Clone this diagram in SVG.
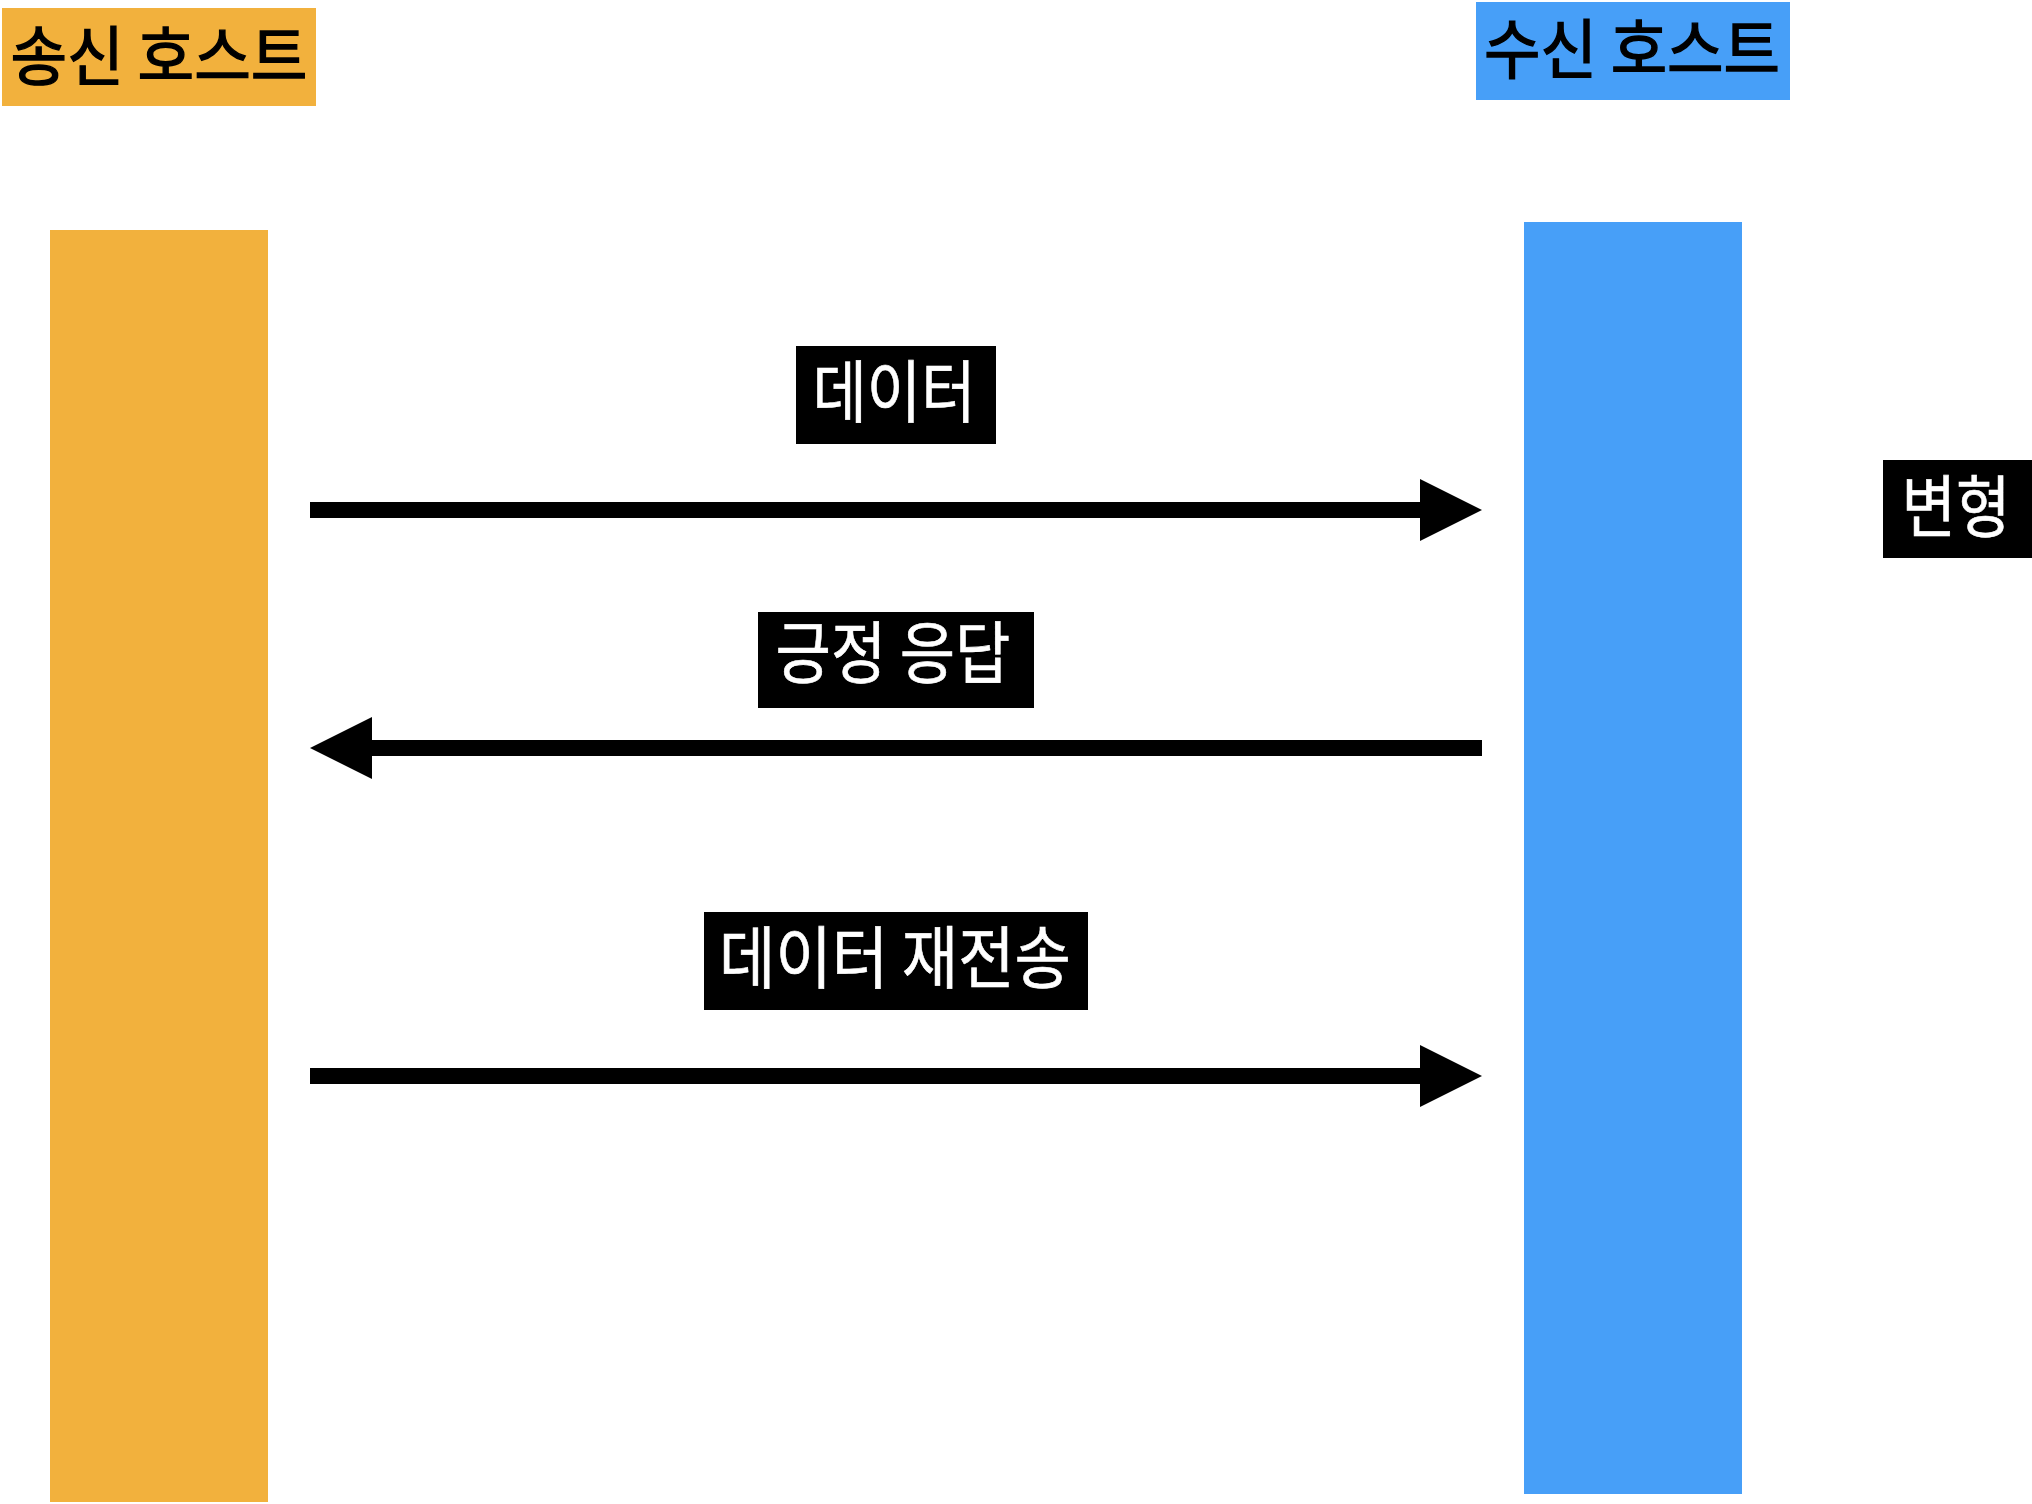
<svg xmlns="http://www.w3.org/2000/svg" width="2032" height="1504" viewBox="0 0 2032 1504">
<style>
.lbl{font-family:"Noto Sans CJK KR","Noto Sans",sans-serif;font-size:68px;fill:#fff;stroke:#fff;stroke-width:0.6;text-anchor:middle}
.ttl{font-family:"Noto Sans CJK KR","Noto Sans",sans-serif;font-size:65px;fill:#000;stroke:#000;stroke-width:1.4;text-anchor:middle}
.box{fill:#000}
.org{fill:#F2B13D}
.blu{fill:#479FF8}
.conn{stroke:#000;stroke-width:16;fill:none}
</style>
<defs>
<marker id="ah" markerUnits="userSpaceOnUse" markerWidth="62" markerHeight="62" viewBox="0 0 62 62" refX="0" refY="31" orient="auto">
<path d="M0,0 L62,31 L0,62 z" fill="#000"/>
</marker>
</defs>
<rect width="2032" height="1504" fill="#fff"/>
<g id="sender-label">
<rect class="org" x="2" y="8" width="314" height="98"/>
<text class="ttl" x="159" y="80" textLength="297" lengthAdjust="spacingAndGlyphs">송신 호스트</text>
</g>
<g id="receiver-label">
<rect class="blu" x="1476" y="2" width="314" height="98"/>
<text class="ttl" x="1632" y="73" textLength="296" lengthAdjust="spacingAndGlyphs">수신 호스트</text>
</g>
<g id="sender-bar"><rect class="org" x="50" y="230" width="218" height="1272"/></g>
<g id="receiver-bar"><rect class="blu" x="1524" y="222" width="218" height="1272"/></g>
<g id="label-data">
<rect class="box" x="796" y="346" width="200" height="98"/>
<text class="lbl" x="894" y="417" textLength="163" lengthAdjust="spacingAndGlyphs">데이터</text>
</g>
<g id="label-ack">
<rect class="box" x="758" y="612" width="276" height="96"/>
<text class="lbl" x="893" y="678" textLength="235" lengthAdjust="spacingAndGlyphs">긍정 응답</text>
</g>
<g id="label-retx">
<rect class="box" x="704" y="912" width="384" height="98"/>
<text class="lbl" x="895" y="983" textLength="352" lengthAdjust="spacingAndGlyphs">데이터 재전송</text>
</g>
<g id="label-variant">
<rect class="box" x="1883" y="460" width="149" height="98"/>
<text class="lbl" x="1956" y="532" textLength="109" lengthAdjust="spacingAndGlyphs">변형</text>
</g>
<g id="connectors">
<line class="conn" x1="310" y1="510" x2="1420" y2="510" marker-end="url(#ah)"/>
<line class="conn" x1="1482" y1="748" x2="372" y2="748" marker-end="url(#ah)"/>
<line class="conn" x1="310" y1="1076" x2="1420" y2="1076" marker-end="url(#ah)"/>
</g>
</svg>
